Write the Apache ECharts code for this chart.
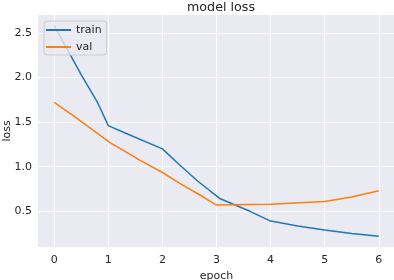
<!DOCTYPE html>
<html>
<head>
<meta charset="utf-8">
<script src="https://cdn.jsdelivr.net/npm/echarts@6/dist/echarts.min.js"></script>
<style>html,body{margin:0;padding:0;background:#fff}#c{width:394px;height:280px}</style>
</head>
<body>
<div id="c"></div>
<script>
const trainEpochs = [0, 0.3, 0.5, 0.8, 1.0, 1.3, 2.0, 2.3, 2.65, 2.88, 3.07, 3.62, 3.98, 4.5, 5.0, 5.5, 6.0];
const trainLoss   = [2.58, 2.25, 2.03, 1.72, 1.46, 1.38, 1.20, 1.03, 0.84, 0.73, 0.64, 0.50, 0.395, 0.335, 0.29, 0.25, 0.22];
const valEpochs = [0, 0.33, 0.85, 1.03, 1.59, 2.0, 2.33, 2.7, 2.88, 3.0, 4.0, 5.0, 5.5, 6.0];
const valLoss   = [1.72, 1.58, 1.35, 1.27, 1.07, 0.935, 0.81, 0.68, 0.615, 0.57, 0.58, 0.61, 0.66, 0.73];
const xTicks = [0, 1, 2, 3, 4, 5, 6];
const yTicks = [0.5, 1.0, 1.5, 2.0, 2.5];

const zip = (xs, ys) => xs.map((x, i) => [x, ys[i]]);
const font = 'DejaVu Sans';
const chart = echarts.init(document.getElementById('c'), null, {renderer: 'canvas'});
chart.setOption({
  animation: false,
  title: {text: 'model loss', left: 216, top: -4, textAlign: 'center',
    textStyle: {fontFamily: font, fontSize: 12.7, fontWeight: 'normal', color: '#262626'}},
  grid: {left: 38, top: 15, width: 357, height: 232, show: true, backgroundColor: '#EAEAF2', borderWidth: 0,
    containLabel: false, outerBoundsMode: 'none'},
  legend: {
    orient: 'vertical', left: 44, top: 21, padding: [2, 5, 1, 2], itemGap: 3,
    itemWidth: 25, itemHeight: 2, icon: 'rect',
    backgroundColor: 'rgba(234,234,242,0.8)', borderColor: '#cccccc', borderWidth: 1, borderRadius: 3,
    textStyle: {fontFamily: font, fontSize: 11, color: '#262626', lineHeight: 14},
    data: ['train', 'val']
  },
  xAxis: {
    type: 'value', min: -0.3, max: 6.3,
    name: 'epoch', nameLocation: 'middle', nameGap: 24, nameMoveOverlap: false,
    nameTextStyle: {fontFamily: font, fontSize: 11, color: '#262626'},
    axisLine: {show: false},
    axisTick: {show: false, customValues: xTicks},
    axisLabel: {customValues: xTicks, fontFamily: font, fontSize: 11, color: '#262626', margin: 8},
    splitLine: {show: true, lineStyle: {color: '#ffffff', width: 1}}
  },
  yAxis: {
    type: 'value', min: 0.1, max: 2.7,
    name: 'loss', nameLocation: 'middle', nameGap: 25, nameMoveOverlap: false,
    nameTextStyle: {fontFamily: font, fontSize: 11, color: '#262626'},
    axisLine: {show: false},
    axisTick: {show: false, customValues: yTicks},
    axisLabel: {customValues: yTicks, fontFamily: font, fontSize: 11, color: '#262626', margin: 6,
      formatter: v => v.toFixed(1)},
    splitLine: {show: true, lineStyle: {color: '#ffffff', width: 1}}
  },
  series: [
    {name: 'train', type: 'line', data: zip(trainEpochs, trainLoss), showSymbol: false, symbol: 'none',
      lineStyle: {color: '#1f77b4', width: 1.5}, itemStyle: {color: '#1f77b4'}},
    {name: 'val', type: 'line', data: zip(valEpochs, valLoss), showSymbol: false, symbol: 'none',
      lineStyle: {color: '#ff7f0e', width: 1.5}, itemStyle: {color: '#ff7f0e'}}
  ]
});
</script>
</body>
</html>
